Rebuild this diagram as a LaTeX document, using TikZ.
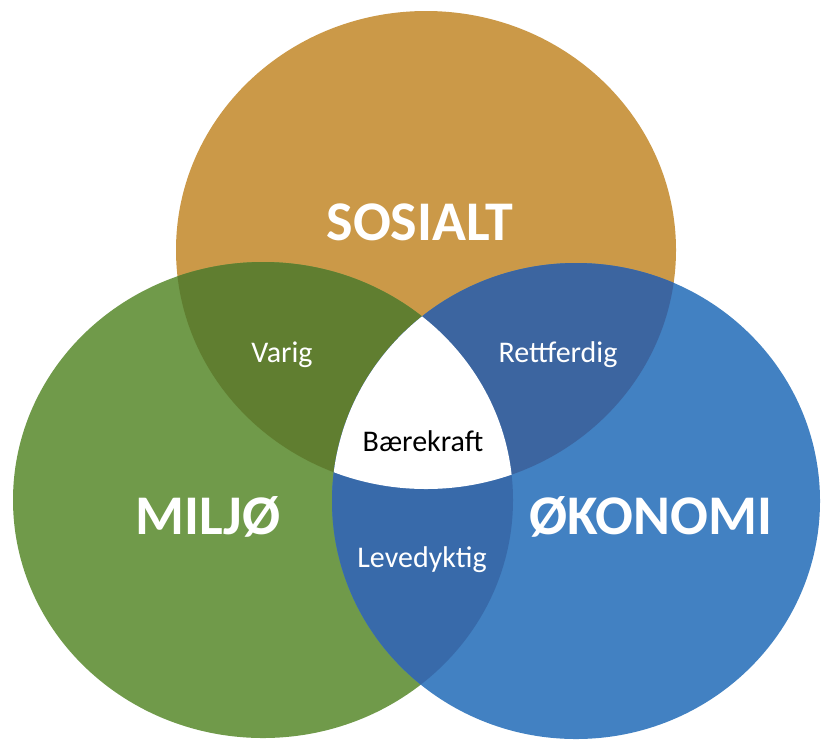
\documentclass[tikz,border=0pt]{standalone}
\usepackage{fontspec}
\setmainfont{Carlito}
\usetikzlibrary{positioning}

\definecolor{sosialfarge}{RGB}{203,153,72}
\definecolor{miljofarge}{RGB}{112,154,74}
\definecolor{okonomifarge}{RGB}{66,129,194}
\definecolor{varigfarge}{RGB}{96,126,48}
\definecolor{rettfarge}{RGB}{60,101,160}
\definecolor{levefarge}{RGB}{56,106,170}

\newcommand{\sosialring}{(426,250) ellipse [x radius=250pt, y radius=239pt]}
\newcommand{\miljoring}{(263,500) ellipse [x radius=250pt, y radius=238pt]}
\newcommand{\okonomiring}{(576,501) ellipse [x radius=244pt, y radius=238pt]}

\begin{document}
\begin{tikzpicture}[x=1pt,y=-1pt,
  stor/.style={text=white,font=\bfseries\fontsize{56}{60}\selectfont},
  liten/.style={text=white,font=\fontsize{30}{34}\selectfont}]
\useasboundingbox (0,0) rectangle (821,740);

\fill[sosialfarge] \sosialring;
\fill[miljofarge] \miljoring;
\fill[okonomifarge] \okonomiring;

% overlapp
\begin{scope}
\clip \miljoring;
\fill[varigfarge] \sosialring;
\end{scope}
\begin{scope}
\clip \okonomiring;
\fill[rettfarge] \sosialring;
\end{scope}
\begin{scope}
\clip \okonomiring;
\fill[levefarge] \miljoring;
\end{scope}
\begin{scope}
\clip \okonomiring;
\clip \miljoring;
\clip \sosialring;
\fill[white] (0,0) rectangle (821,740);
\end{scope}

\node[stor] (sosialt) at (420,222) {SOSIALT};
\node[stor] (miljo) at (208,517) {MILJØ};
\node[stor] (okonomi) at (651,517) {ØKONOMI};
\node[liten] (varig) at (282,355) {Varig};
\node[liten] (rettferdig) at (558,355) {Rettferdig};
\node[liten] (levedyktig) at (422,560) {Levedyktig};
\node[liten,text=black] (baerekraft) at (423,441) {Bærekraft};

\end{tikzpicture}
\end{document}
